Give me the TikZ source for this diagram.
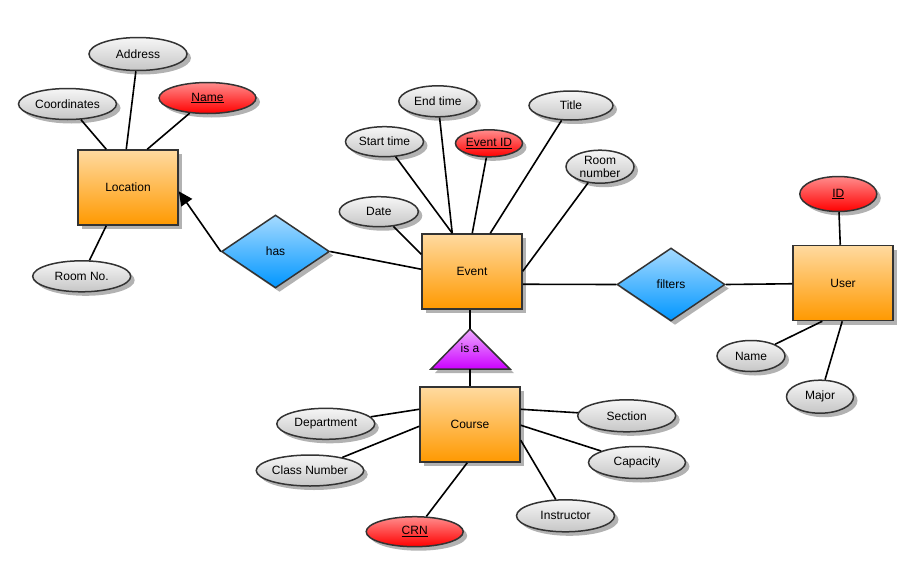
\documentclass[tikz,border=0pt]{standalone}
\usepackage{fontspec}
\setmainfont{Liberation Sans}
\usetikzlibrary{shapes.geometric,shadows,arrows.meta}
\definecolor{orTop}{RGB}{255,218,160}
\definecolor{orBot}{RGB}{255,153,0}
\definecolor{blTop}{RGB}{165,218,255}
\definecolor{blBot}{RGB}{0,150,255}
\definecolor{grTop}{RGB}{246,246,246}
\definecolor{grBot}{RGB}{198,198,198}
\definecolor{rdTop}{RGB}{255,140,140}
\definecolor{rdBot}{RGB}{255,0,0}
\definecolor{puTop}{RGB}{238,170,255}
\definecolor{puBot}{RGB}{204,0,255}
\definecolor{edge}{RGB}{51,51,51}
\tikzset{
  base/.style={draw=edge, line width=1.5pt, font=\fontsize{12}{13.5}\selectfont, text=black,
    drop shadow={shadow xshift=4pt, shadow yshift=-4pt, fill=black!30, opacity=1}},
  entity/.style={base, rectangle, top color=orTop, bottom color=orBot, minimum width=100pt, minimum height=75pt, inner sep=0pt},
  rel/.style={base, diamond, top color=blTop, bottom color=blBot, minimum width=108pt, minimum height=73pt, inner sep=0pt},
  attr/.style={base, ellipse, top color=grTop, bottom color=grBot, inner sep=0pt,
    drop shadow={shadow xshift=3pt, shadow yshift=-3pt, fill=black!30, opacity=1}},
  keyattr/.style={attr, top color=rdTop, bottom color=rdBot},
  link/.style={draw=black, line width=1.6pt},
  tri/.style={draw=edge, line width=1.5pt, top color=puTop, bottom color=puBot, line join=miter,
    drop shadow={shadow xshift=4pt, shadow yshift=-4pt, fill=black!30, opacity=1}},
  lbl/.style={font=\fontsize{12}{13.5}\selectfont, inner sep=0pt}
}
\begin{document}
\begin{tikzpicture}[x=1pt,y=-1pt]
\useasboundingbox (0,0) rectangle (913,568);
% entities
\node[entity] (loc) at (128,187.5) {Location};
\node[entity] (event) at (472,271.5) {Event};
\node[entity] (user) at (843,283) {User};
\node[entity] (course) at (470,424.5) {Course};
% relationships
\node[rel] (has) at (275.5,251.5) {has};
\node[rel] (filters) at (671,284.5) {filters};
% is-a triangle
\coordinate (isaTop) at (470,329);
\coordinate (isaL) at (431,369);
\coordinate (isaR) at (510,369);
\coordinate (isaBase) at (470,369);
\path[tri] (isaTop) -- (isaR) -- (isaL) -- cycle;
\node[lbl] (isa) at (470,348.5) {is a};
% Location attributes
\node[attr, minimum width=98pt, minimum height=33pt] (address) at (138,54) {Address};
\node[attr, minimum width=98pt, minimum height=31pt] (coordinates) at (67.5,104) {Coordinates};
\node[keyattr, minimum width=97pt, minimum height=31pt] (lname) at (207.5,98) {\underline{Name}};
\node[attr, minimum width=98pt, minimum height=31pt] (roomno) at (81.7,276.3) {Room No.};
% Event attributes
\node[attr, minimum width=78pt, minimum height=31pt] (endtime) at (437.8,101.3) {End time};
\node[attr, minimum width=78pt, minimum height=30pt] (starttime) at (384.5,141.7) {Start time};
\node[keyattr, minimum width=67pt, minimum height=27pt] (eventid) at (489,143.3) {\underline{Event ID}};
\node[attr, minimum width=84pt, minimum height=29pt] (title) at (571,105.5) {Title};
\node[attr, minimum width=68pt, minimum height=33pt, align=center] (roomnumber) at (600,166.7) {Room\\number};
\node[attr, minimum width=79pt, minimum height=30pt] (date) at (378.8,211.7) {Date};
% User attributes
\node[keyattr, minimum width=77pt, minimum height=35pt] (uid) at (838.3,194) {\underline{ID}};
\node[attr, minimum width=68pt, minimum height=31pt] (uname) at (751,356) {Name};
\node[attr, minimum width=67pt, minimum height=33pt] (major) at (820,396.7) {Major};
% Course attributes
\node[attr, minimum width=98pt, minimum height=31pt] (dept) at (325.8,423.8) {Department};
\node[attr, minimum width=98pt, minimum height=31pt] (classnum) at (310,470.5) {Class Number};
\node[keyattr, minimum width=97pt, minimum height=30pt] (crn) at (414.7,531.7) {\underline{CRN}};
\node[attr, minimum width=98pt, minimum height=32pt] (section) at (626.7,415.8) {Section};
\node[attr, minimum width=97pt, minimum height=32pt] (capacity) at (637,462.5) {Capacity};
\node[attr, minimum width=98pt, minimum height=32pt] (instructor) at (565.5,515.8) {Instructor};
% connectors: Location
\draw[link] (coordinates) -- ([xshift=29pt]loc.north west);
\draw[link] (address) -- ([xshift=49pt]loc.north west);
\draw[link] (lname) -- ([xshift=70pt]loc.north west);
\draw[link] (roomno) -- ([xshift=29pt]loc.south west);
\draw[link,-{Triangle[length=14pt,width=13pt]}] (has.west) -- ([yshift=-42pt]loc.north east);
% connectors: Event
\draw[link] (has.east) -- ([yshift=-36pt]event.north west);
\draw[link] (date) -- ([yshift=-21pt]event.north west);
\draw[link] (starttime) -- ([xshift=31pt]event.north west);
\draw[link] (endtime) -- ([xshift=31pt]event.north west);
\draw[link] (eventid) -- ([xshift=51pt]event.north west);
\draw[link] (title) -- ([xshift=69pt]event.north west);
\draw[link] (roomnumber) -- ([yshift=-38pt]event.north east);
\draw[link] ([yshift=-51pt]event.north east) -- (filters.west);
\draw[link] (filters.east) -- ([yshift=-39pt]user.north west);
\draw[link] ([xshift=-2pt]event.south) -- (isaTop);
\draw[link] (isaBase) -- (course.north);
% connectors: User
\draw[link] (uid) -- ([xshift=48pt]user.north west);
\draw[link] (uname) -- ([xshift=30pt]user.south west);
\draw[link] (major) -- ([xshift=50pt]user.south west);
% connectors: Course
\draw[link] (dept) -- ([yshift=-23pt]course.north west);
\draw[link] (classnum) -- ([yshift=-40pt]course.north west);
\draw[link] (crn) -- ([xshift=48pt]course.south west);
\draw[link] (section) -- ([yshift=-23pt]course.north east);
\draw[link] (capacity) -- ([yshift=-39pt]course.north east);
\draw[link] (instructor) -- ([yshift=-54pt]course.north east);
\end{tikzpicture}
\end{document}
